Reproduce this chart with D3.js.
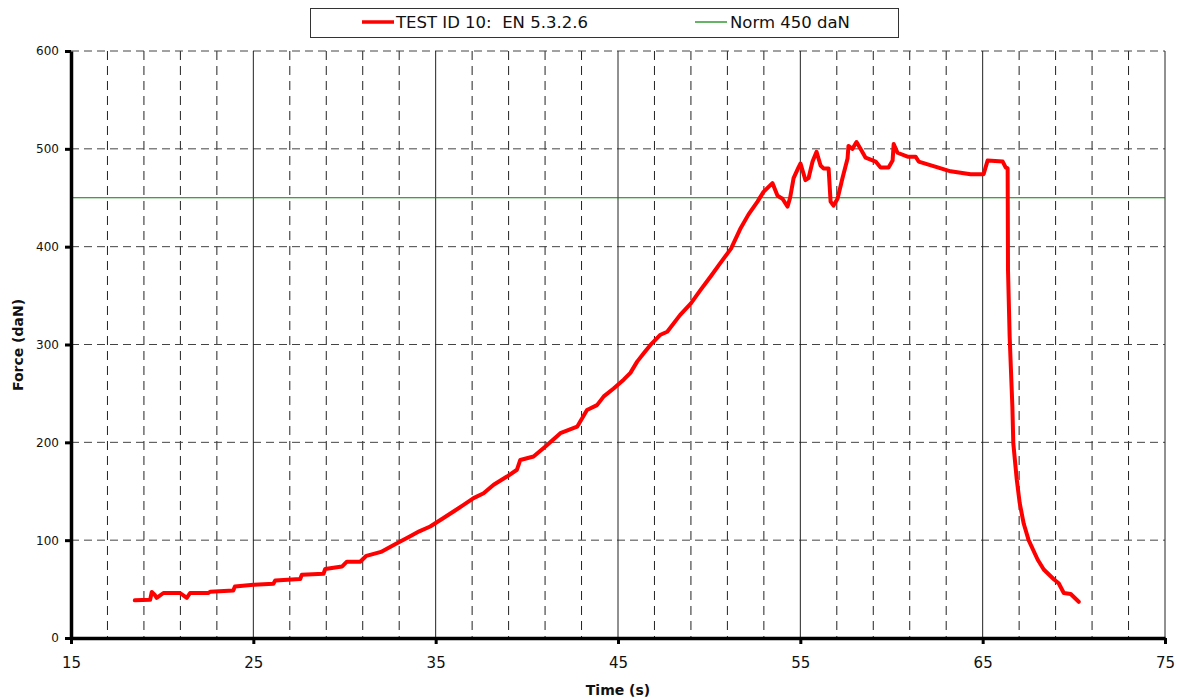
<!DOCTYPE html>
<html>
<head>
<meta charset="utf-8">
<script src="https://cdn.jsdelivr.net/npm/d3@7"></script>
<style>
  body { margin: 0; background: #fff; }
  text { font-family: "DejaVu Sans", Verdana, sans-serif; fill: #111; }
</style>
</head>
<body>
<div id="chart"></div>
<script>
const width = 1177;
const height = 698;

// test curve, time in s / force in daN
const time = [18.5, 19.34, 19.43, 19.6, 19.7, 20.07, 20.98, 21.35, 21.53, 22.54, 22.63, 23.9, 23.99, 25.0, 26.1, 26.2,
  27.57, 27.66, 28.85, 28.94, 29.86, 30.13, 30.86, 31.2, 32.0, 32.8, 33.5, 34.1, 34.7, 35.43, 35.98, 36.53, 37.08,
  37.63, 38.18, 38.91, 39.46, 39.64, 40.37, 41.02, 41.84, 42.76, 43.3, 43.85, 44.22, 44.76, 45.31, 45.68, 46.05,
  46.41, 46.78, 47.33, 47.7, 48.4, 49.0, 49.5, 50.1, 50.6, 51.2, 51.7, 52.16, 52.65, 52.98, 53.47, 53.75, 54.02,
  54.3, 54.44, 54.63, 54.9, 55.01, 55.28, 55.45, 55.67, 55.89, 56.11, 56.27, 56.55, 56.66, 56.82, 57.04, 57.31,
  57.59, 57.64, 57.86, 58.08, 58.3, 58.58, 59.13, 59.4, 59.84, 60.06, 60.12, 60.33, 60.88, 61.32, 61.49, 62.53,
  63.24, 64.34, 65.05, 65.27, 66.1, 66.26, 66.37, 66.39, 66.48, 66.63, 66.68, 66.87, 67.03, 67.25, 67.52, 68.02,
  68.35, 68.9, 69.17, 69.45, 69.83, 70.27];
const force = [38.5, 39, 47, 44, 41, 46, 46, 41, 46, 46, 47.3, 48.6, 52.7, 54.4, 55.5, 58.8,
  60.3, 64.7, 65.7, 70.5, 73, 78, 78, 84, 88, 96, 103, 109, 114, 122.6, 129.3, 136, 143,
  148, 156.6, 165, 172, 182, 185.5, 195.7, 209.4, 216, 233, 238, 247, 255, 264, 271, 282.5,
  291, 299.6, 310, 313, 330, 342, 355, 370, 383, 398, 418, 433, 446, 456, 465, 452, 449,
  441, 450, 470, 481, 485, 468, 470, 487, 497, 483, 480, 480, 446, 442, 449, 470,
  490, 503, 500, 507, 500, 491, 487, 481, 481, 488, 505, 496, 492, 492, 487, 481,
  477, 474, 474, 488, 487, 481, 480, 376, 308, 236, 199, 162, 138, 117, 100, 80,
  70, 60, 56, 46, 45, 37];

const normValue = 450;
const xTicks = [15, 25, 35, 45, 55, 65, 75];
const xMinor = [17, 19, 21, 23, 27, 29, 31, 33, 37, 39, 41, 43, 47, 49, 51, 53, 57, 59, 61, 63, 67, 69, 71, 73];
const yTicks = [0, 100, 200, 300, 400, 500, 600];
const seriesNames = ["TEST ID 10:  EN 5.3.2.6", "Norm 450 daN"];

const svg = d3.select("#chart")
    .append("svg")
    .attr("width", width)
    .attr("height", height);

svg.append("rect").attr("width", width).attr("height", height).attr("fill", "#fff");

const x = d3.scaleLinear().domain([15, 75]).range([71, 1165]);
const y = d3.scaleLinear().domain([0, 600]).range([638, 51]);

// grid
svg.append("g")
   .selectAll("line")
   .data(xMinor)
   .enter()
   .append("line")
   .attr("x1", d => x(d)).attr("x2", d => x(d))
   .attr("y1", y(600)).attr("y2", y(0))
   .attr("stroke", "#222")
   .attr("stroke-dasharray", "9,6");

svg.append("g")
   .selectAll("line")
   .data(yTicks.slice(1))
   .enter()
   .append("line")
   .attr("x1", x(15)).attr("x2", x(75))
   .attr("y1", d => y(d)).attr("y2", d => y(d))
   .attr("stroke", "#444")
   .attr("stroke-dasharray", "8,5");

svg.append("g")
   .selectAll("line")
   .data(xTicks.slice(1))
   .enter()
   .append("line")
   .attr("x1", d => x(d)).attr("x2", d => x(d))
   .attr("y1", y(600)).attr("y2", y(0))
   .attr("stroke", "#222")
   .attr("stroke-width", 1);

// norm line
svg.append("line")
   .attr("x1", x(15)).attr("x2", x(75))
   .attr("y1", y(normValue)).attr("y2", y(normValue))
   .attr("stroke", "#008000")
   .attr("stroke-width", 1.2);

// data
const data = time.map((t, i) => ({ t: t, f: force[i] }));
const line = d3.line().x(d => x(d.t)).y(d => y(d.f));

svg.append("path")
   .datum(data)
   .attr("d", line)
   .attr("fill", "none")
   .attr("stroke", "#ff0000")
   .attr("stroke-width", 4)
   .attr("stroke-linejoin", "round")
   .attr("stroke-linecap", "round");

// axes
const yAxis = svg.append("g")
   .attr("transform", `translate(${x(15)},0)`)
   .call(d3.axisLeft(y).tickValues(yTicks).tickSize(6).tickSizeOuter(0).tickPadding(6));
yAxis.select(".domain").attr("stroke", "#000").attr("stroke-width", 3.5);
yAxis.selectAll(".tick line").attr("stroke", "#000").attr("stroke-width", 3);
yAxis.selectAll(".tick text").style("font-size", "12px").style("font-family", "DejaVu Sans");

const xAxis = svg.append("g")
   .attr("transform", `translate(0,${y(0)})`)
   .call(d3.axisBottom(x).tickValues(xTicks).tickSize(6).tickSizeOuter(0).tickPadding(13));
xAxis.select(".domain").attr("stroke", "#000").attr("stroke-width", 3.5);
xAxis.selectAll(".tick line").attr("stroke", "#000").attr("stroke-width", 3);
xAxis.selectAll(".tick text").style("font-size", "15px").style("font-family", "DejaVu Sans");

// titles
svg.append("text")
   .attr("x", 618).attr("y", 695)
   .attr("text-anchor", "middle")
   .style("font-size", "14px").style("font-weight", "bold")
   .text("Time (s)");

svg.append("text")
   .attr("transform", "translate(23,345) rotate(-90)")
   .attr("text-anchor", "middle")
   .style("font-size", "14px").style("font-weight", "bold")
   .text("Force (daN)");

// legend
const legend = svg.append("g");
legend.append("rect")
   .attr("x", 310.5).attr("y", 8.5).attr("width", 588).attr("height", 29)
   .attr("fill", "#fff").attr("stroke", "#333");
legend.append("line")
   .attr("x1", 362).attr("x2", 394).attr("y1", 22).attr("y2", 22)
   .attr("stroke", "#ff0000").attr("stroke-width", 3.5);
legend.append("text")
   .attr("x", 396).attr("y", 28)
   .style("font-size", "16.5px").style("white-space", "pre")
   .text(seriesNames[0]);
legend.append("line")
   .attr("x1", 695).attr("x2", 727).attr("y1", 22).attr("y2", 22)
   .attr("stroke", "#008000").attr("stroke-width", 1.2);
legend.append("text")
   .attr("x", 730).attr("y", 28)
   .style("font-size", "16.5px")
   .text(seriesNames[1]);
</script>
</body>
</html>
